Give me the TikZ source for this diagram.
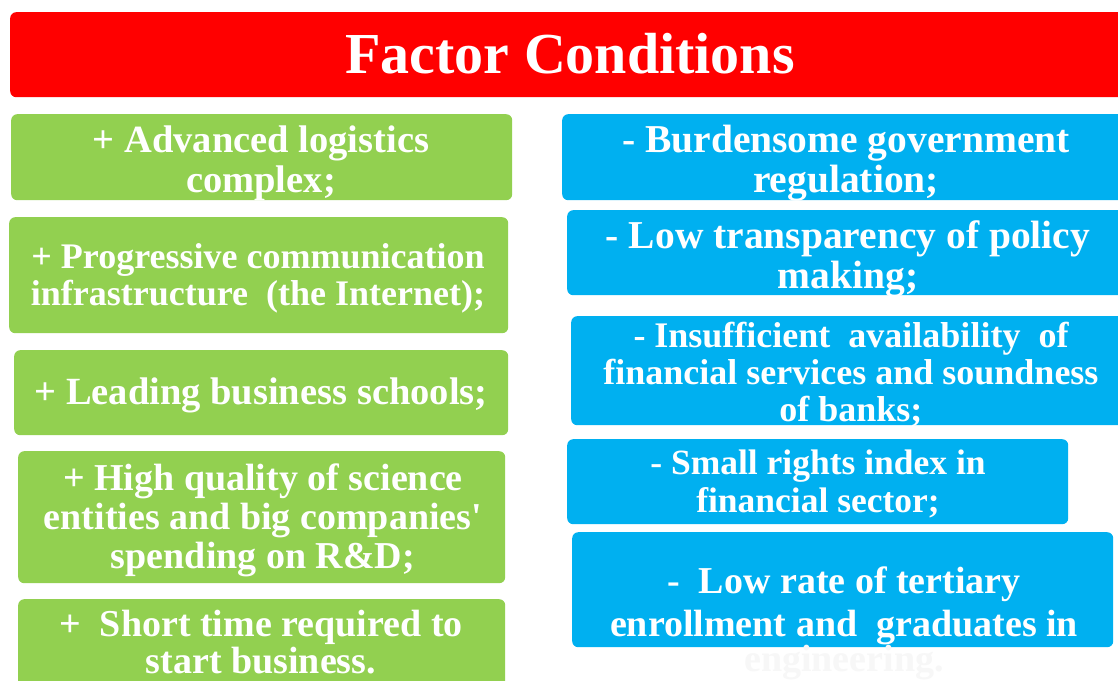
\documentclass[tikz,border=0pt]{standalone}
\usepackage{fontspec}
\setmainfont{Liberation Serif}
\definecolor{titlered}{HTML}{FF0000}
\definecolor{posgreen}{HTML}{92D050}
\definecolor{negblue}{HTML}{00B0F0}
\definecolor{ghost}{HTML}{F7F7F7}
\newcommand\boxtext[1]{\parbox[t]{560pt}{\centering #1}}
\tikzset{
  titlebox/.style={fill=titlered, rounded corners=6pt, inner sep=0pt, anchor=north west},
  gbox/.style={fill=posgreen, rounded corners=6pt, inner sep=0pt, anchor=north west},
  bbox/.style={fill=negblue, rounded corners=6pt, inner sep=0pt, anchor=north west},
  txt/.style={text=white, inner sep=0pt, anchor=base},
}
\begin{document}
\begin{tikzpicture}[x=1pt,y=-1pt]
\useasboundingbox (0,0) rectangle (1118,680);
\clip (0,0) rectangle (1118,680);
\fill[white] (0,0) rectangle (1118,680);
% title
\node[titlebox, minimum width=1120pt, minimum height=85pt] (title) at (10,12) {};
\node[txt, font=\fontsize{58}{60}\selectfont\bfseries] (titletext) at (570,73) {Factor Conditions};
% green boxes
\node[gbox, minimum width=501pt, minimum height=86pt] (g1) at (11,114) {};
\node[gbox, minimum width=499pt, minimum height=116pt] (g2) at (9,217) {};
\node[gbox, minimum width=494pt, minimum height=85pt] (g3) at (14,350) {};
\node[gbox, minimum width=487pt, minimum height=132pt] (g4) at (18,451) {};
\node[gbox, minimum width=487pt, minimum height=100pt] (g5) at (18,599) {};
% blue boxes
\node[bbox, minimum width=570pt, minimum height=86pt] (b1) at (562,114) {};
\node[bbox, minimum width=565pt, minimum height=85pt] (b2) at (567,210) {};
\node[bbox, minimum width=560pt, minimum height=109pt] (b3) at (571,316) {};
\node[bbox, minimum width=501pt, minimum height=85pt] (b4) at (567,439) {};
\node[bbox, minimum width=541pt, minimum height=115pt] (b5) at (572,532) {};
% green texts
\node[txt, font=\fontsize{38.5}{40}\selectfont\bfseries] (g1t) at (261,152)
  {\boxtext{+ Advanced logistics\\complex;}};
\node[txt, font=\fontsize{36}{37}\selectfont\bfseries] (g2t) at (258,268)
  {\boxtext{+ Progressive communication\\infrastructure~ (the Internet);}};
\node[txt, font=\fontsize{38.5}{40}\selectfont\bfseries] (g3t) at (261,404)
  {\boxtext{+ Leading business schools;}};
\node[txt, font=\fontsize{38}{39}\selectfont\bfseries] (g4t) at (263,490)
  {\boxtext{+ High quality of science\\entities and big companies\textquotesingle\\spending on R\&D;}};
\node[txt, font=\fontsize{38}{37}\selectfont\bfseries] (g5t) at (261,636)
  {\boxtext{+~ Short time required to\\start business.}};
% blue texts
\node[txt, font=\fontsize{39.5}{40}\selectfont\bfseries] (b1t) at (846,152)
  {\boxtext{- Burdensome government\\regulation;}};
\node[txt, font=\fontsize{39.5}{40}\selectfont\bfseries] (b2t) at (848,248)
  {\boxtext{- Low transparency of policy\\making;}};
\node[txt, font=\fontsize{36}{37}\selectfont\bfseries] (b3t) at (851,347)
  {\boxtext{- Insufficient~ availability~ of\\financial services and soundness\\of banks;}};
\node[txt, font=\fontsize{35.5}{38}\selectfont\bfseries] (b4t) at (818,474)
  {\boxtext{- Small rights index in\\financial sector;}};
\node[txt, font=\fontsize{38}{43}\selectfont\bfseries] (b5t) at (844,593)
  {\boxtext{-~ Low rate of tertiary\\enrollment and~ graduates in\\[-8pt]\textcolor{ghost}{engineering.}}};
\end{tikzpicture}
\end{document}
